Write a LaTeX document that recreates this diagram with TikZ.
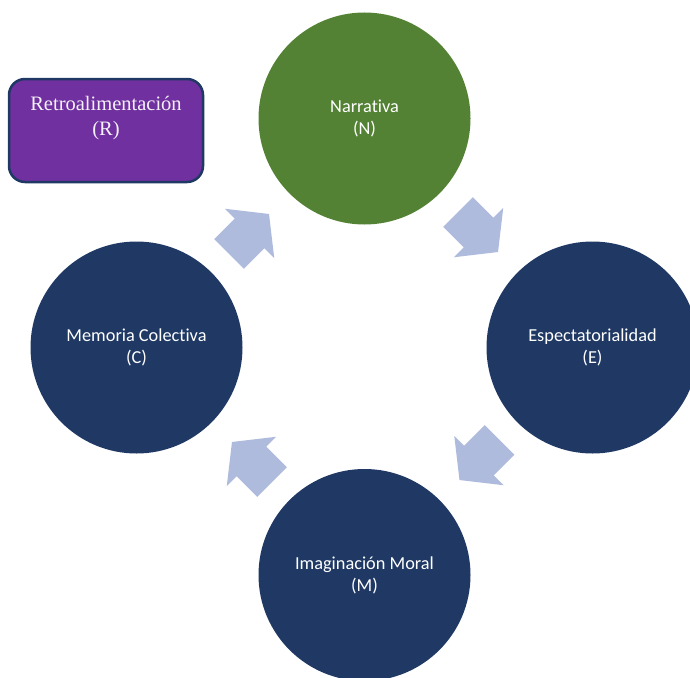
\documentclass[tikz,border=0pt]{standalone}
\usepackage{fontspec}
\setmainfont{Carlito}[Ligatures={NoCommon}]
\newfontfamily\boxfont{Liberation Serif}
\definecolor{navy}{HTML}{1F3864}
\definecolor{leaf}{HTML}{548235}
\definecolor{arrowblue}{HTML}{AFBBDD}
\definecolor{violet}{HTML}{7030A0}
\definecolor{txt}{HTML}{F4F1F8}
\tikzset{
  circ/.style={circle, minimum size=212pt, inner sep=0pt, text=white, align=center,
    font=\fontsize{18.3}{22}\selectfont},
  navycirc/.style={circ, fill=navy},
  greencirc/.style={circ, fill=leaf},
  feedback/.style={draw=navy, line width=2.5pt, fill=violet, rounded corners=16pt},
  blockarrow/.style={fill=arrowblue}
}
\begin{document}
\begin{tikzpicture}[x=1pt,y=-1pt]
\useasboundingbox (0,0) rectangle (690,677);
\clip (0,0) rectangle (690,677);
\node[greencirc] (N) at (364.5,118.5) {Narrativa\\(N)};
\node[navycirc] (E) at (592.5,347.5) {Espectatorialidad\\(E)};
\node[navycirc] (M) at (364.5,575) {Imaginación Moral\\(M)};
\node[navycirc] (C) at (136.5,347.5) {Memoria Colectiva\\(C)};
\draw[feedback] (9,79) rectangle (203,182);
\node[text=txt, align=center, font=\boxfont\fontsize{20.5}{25}\selectfont, anchor=north] (R) at (106,93) {Retroalimentación\\(R)};
\foreach \px/\py/\ang in {229/254/45, 458/212/-45, 499.5/440/-135, 272/482/135}{
  \fill[blockarrow, shift={(\px,\py)}, rotate=\ang]
    (0,21) -- (29,21) -- (29,35) -- (56.6,0) -- (29,-35) -- (29,-21) -- (0,-21) -- cycle;
}
\end{tikzpicture}
\end{document}
